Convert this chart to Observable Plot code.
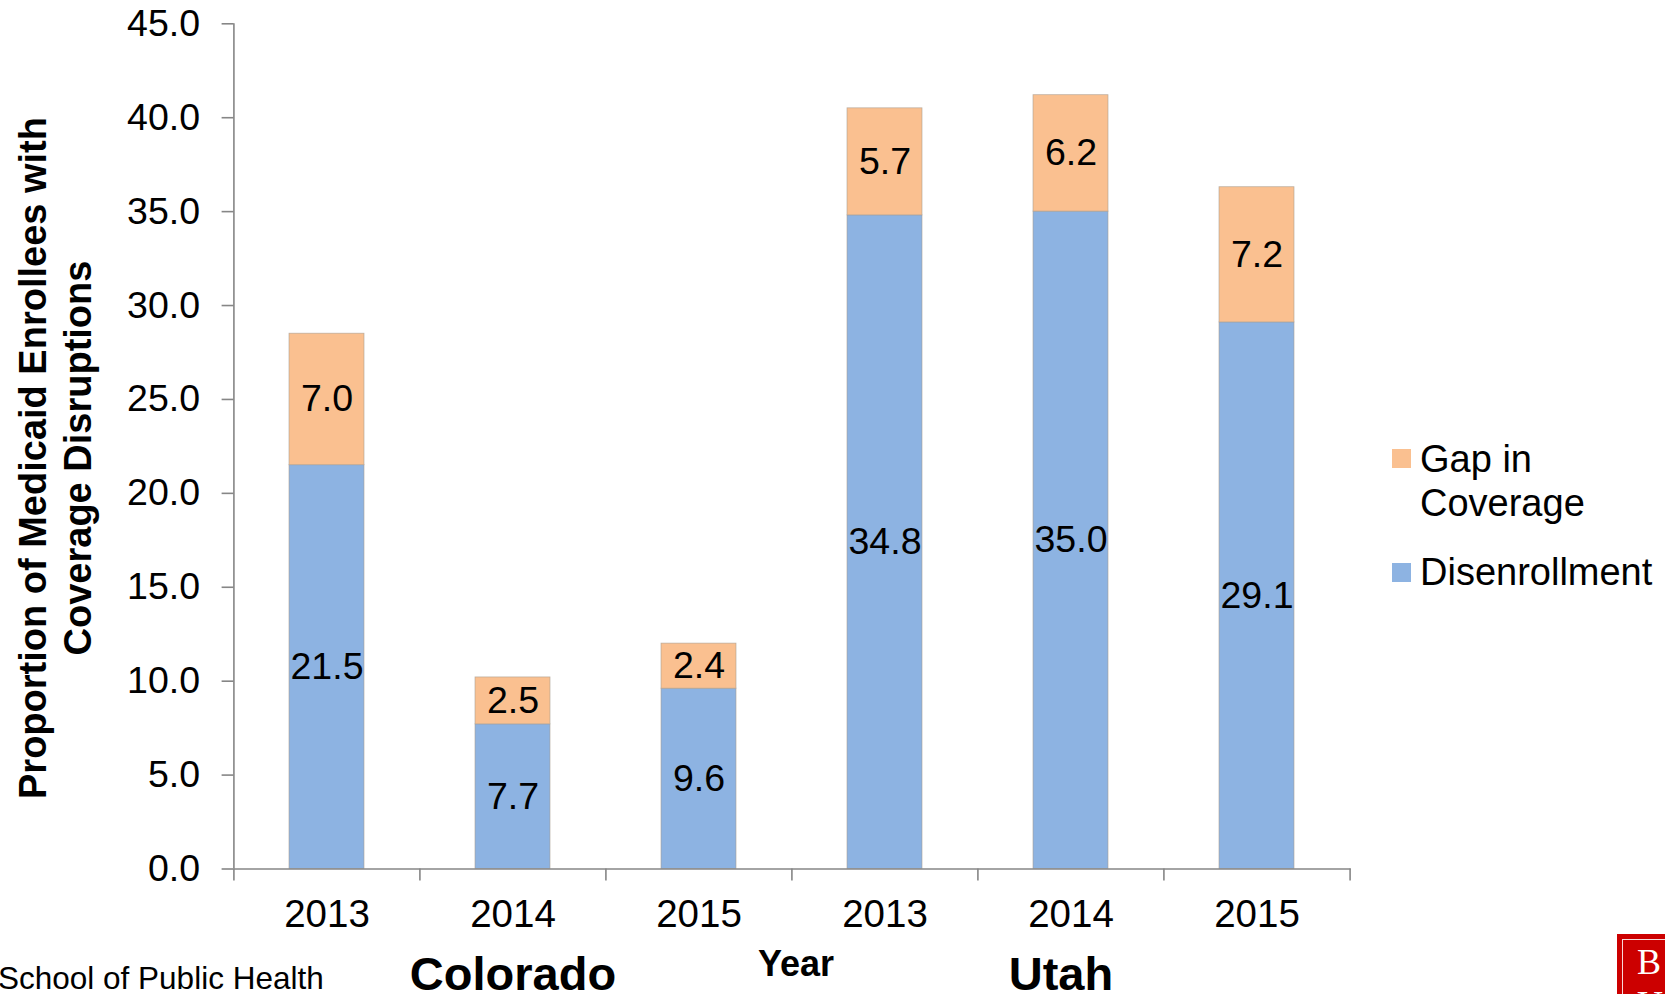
<!DOCTYPE html>
<html>
<head>
<meta charset="utf-8">
<script src="https://cdn.jsdelivr.net/npm/d3@7"></script>
<script src="https://cdn.jsdelivr.net/npm/@observablehq/plot@0.6"></script>
<style>
  html, body { margin: 0; padding: 0; background: #fff; }
  #wrap { position: relative; width: 1665px; height: 994px; overflow: hidden; font-family: "Liberation Sans", Arial, sans-serif; color: #000; }
  .t { position: absolute; white-space: nowrap; line-height: 1; }
  .c { transform: translate(-50%, -50%); }
  .sw { position: absolute; width: 19px; height: 19px; }
</style>
</head>
<body>
<div id="wrap"></div>
<script>
// ---- data ----
const states = ["Colorado", "Colorado", "Colorado", "Utah", "Utah", "Utah"];
const years = ["2013", "2014", "2015", "2013", "2014", "2015"];
const disenrollment = [21.5, 7.7, 9.6, 34.8, 35.0, 29.1];
const gapInCoverage = [7.0, 2.5, 2.4, 5.7, 6.2, 7.2];
const seriesNames = ["Disenrollment", "Gap in Coverage"];
const seriesColors = ["#8DB3E2", "#FAC090"];
const yTicks = [0, 5, 10, 15, 20, 25, 30, 35, 40, 45];

const keys = years.map((y, i) => states[i] + " " + y);
const rows = [
  ...disenrollment.map((v, i) => ({key: keys[i], series: seriesNames[0], value: v})),
  ...gapInCoverage.map((v, i) => ({key: keys[i], series: seriesNames[1], value: v}))
];
const yearOf = new Map(keys.map((k, i) => [k, years[i]]));

// ---- layout ----
const W = 1665, H = 994;
const mL = 233.6, mR = 314.3, mT = 23.3, mB = 125.5;
const step = (W - mL - mR) / keys.length;
const axisColor = "#868686";

const chart = Plot.plot({
  width: W,
  height: H,
  marginLeft: mL,
  marginRight: mR,
  marginTop: mT,
  marginBottom: mB,
  style: {fontFamily: "'Liberation Sans', Arial, sans-serif", fontSize: "37px", color: "#000", background: "transparent"},
  x: {type: "band", domain: keys, paddingInner: 0.595, paddingOuter: 0.2975, label: null},
  y: {domain: [0, 45], label: null},
  color: {domain: seriesNames, range: seriesColors},
  marks: [
    Plot.barY(rows, {x: "key", y: "value", z: "series", fill: "series", stroke: "#a89c90", strokeWidth: 0.8, strokeOpacity: 0.7}),
    Plot.text(rows, Plot.stackY({x: "key", y: "value", z: "series", text: d => d.value.toFixed(1), fontSize: 37.5, fill: "#000"})),
    // axis lines
    Plot.ruleY([0], {stroke: axisColor, strokeWidth: 1.6}),
    Plot.ruleX([keys[0]], {x: d => d, y1: 0, y2: 45, dx: -step / 2, stroke: axisColor, strokeWidth: 1.6}),
    // y axis ticks + labels
    Plot.axisY(yTicks, {tickSize: 12, tickPadding: 22, tickFormat: d => d.toFixed(1), stroke: axisColor, strokeWidth: 1.6, fontSize: 37.5, fill: "#000", label: null}),
    // x boundary ticks
    Plot.axisX(keys, {tickSize: 12, dx: -step / 2, text: null, stroke: axisColor, strokeWidth: 1.6, label: null}),
    Plot.axisX([keys[keys.length - 1]], {tickSize: 12, dx: step / 2, text: null, stroke: axisColor, strokeWidth: 1.6, label: null}),
    // x year labels
    Plot.axisX(keys, {tickSize: 0, tickPadding: 30.5, tickFormat: k => yearOf.get(k), fontSize: 38.5, fill: "#000", label: null})
  ]
});

const wrap = document.getElementById("wrap");
chart.style.position = "absolute";
chart.style.left = "0px";
chart.style.top = "0px";
wrap.appendChild(chart);

function addText(txt, css, cls) {
  const d = document.createElement("div");
  d.className = "t " + (cls || "");
  d.textContent = txt;
  Object.assign(d.style, css);
  wrap.appendChild(d);
  return d;
}

// Y axis title (two rotated lines)
const yLines = ["Proportion of Medicaid Enrollees with", "Coverage Disruptions"];
const yLineX = [33, 78];
yLines.forEach((s, i) => {
  addText(s, {left: yLineX[i] + "px", top: "458px", fontSize: "38px", fontWeight: "bold",
    transform: "translate(-50%, -50%) rotate(-90deg)"});
});

// Bottom titles
addText("Year", {left: "796px", top: "963.5px", fontSize: "36px", fontWeight: "bold"}, "c");
const stateNames = ["Colorado", "Utah"];
const stateX = [513, 1061];
stateNames.forEach((s, i) => addText(s, {left: stateX[i] + "px", top: "974px", fontSize: "47px", fontWeight: "bold", lineHeight: "0.8"}, "c"));
addText("School of Public Health", {left: "-2px", top: "979px", fontSize: "31.5px", lineHeight: "0.8", transform: "translateY(-50%)"});

// Legend
const legendItems = [
  {color: seriesColors[1], lines: ["Gap in", "Coverage"], sq: 449, tops: [440, 484]},
  {color: seriesColors[0], lines: ["Disenrollment"], sq: 563, tops: [553]}
];
legendItems.forEach(it => {
  const sw = document.createElement("div");
  sw.className = "sw";
  Object.assign(sw.style, {left: "1392px", top: it.sq + "px", background: it.color});
  wrap.appendChild(sw);
  it.lines.forEach((l, j) => addText(l, {left: "1420px", top: it.tops[j] + "px", fontSize: "38px"}));
});

// Logo (partially visible at the bottom-right corner)
const logo = document.createElement("div");
Object.assign(logo.style, {position: "absolute", left: "1617px", top: "934px", width: "70px", height: "90px", background: "#cc0000"});
const inner = document.createElement("div");
Object.assign(inner.style, {position: "absolute", left: "5px", top: "5px", right: "5px", bottom: "5px", border: "1.5px solid rgba(255,255,255,0.85)"});
logo.appendChild(inner);
const lb = document.createElement("div");
lb.textContent = "B";
Object.assign(lb.style, {position: "absolute", left: "20px", top: "10px", fontFamily: "'Liberation Serif', 'Times New Roman', serif", fontSize: "36px", lineHeight: "1", color: "#fff"});
logo.appendChild(lb);
const lu = document.createElement("div");
lu.textContent = "U";
Object.assign(lu.style, {position: "absolute", left: "20px", top: "52px", fontFamily: "'Liberation Serif', 'Times New Roman', serif", fontSize: "36px", lineHeight: "1", color: "#fff"});
logo.appendChild(lu);
wrap.appendChild(logo);
</script>
</body>
</html>
